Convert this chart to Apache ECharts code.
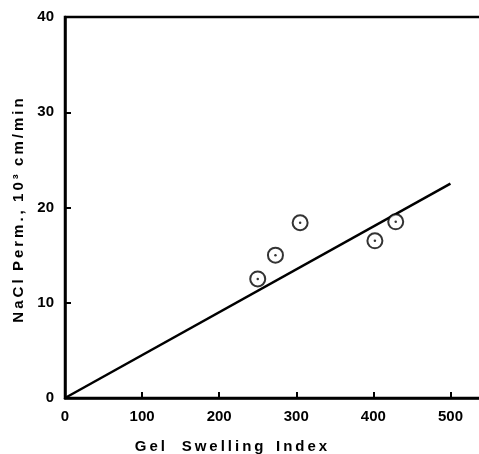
<!DOCTYPE html>
<html><head><meta charset="utf-8">
<script src="https://cdn.jsdelivr.net/npm/echarts@6/dist/echarts.min.js"></script>
<style>html,body{margin:0;padding:0;background:#fff}#c{width:479px;height:454px}</style>
</head><body><div id="c"></div>
<script>
const swellingIndex = [250, 273, 305, 402, 429];
const naclPerm = [12.5, 15.0, 18.4, 16.5, 18.5];
const fitX = [0, 500];
const fitY = [0, 22.5];
const xTicks = [0, 100, 200, 300, 400, 500];
const yTicks = [0, 10, 20, 30, 40];

const sp = s => s.split('').join('\u2009');
const pts = swellingIndex.map((x, i) => [x, naclPerm[i]]);
const line = fitX.map((x, i) => [x, fitY[i]]);
const font = 'Liberation Sans';
const chart = echarts.init(document.getElementById('c'));
chart.setOption({
  animation: false,
  backgroundColor: '#fff',
  grid: {left: 65, top: 17, right: -10, bottom: 56, show: true, borderColor: '#000', borderWidth: 2.5,
    outerBoundsMode: 'none', containLabel: false},
  xAxis: {
    type: 'value', min: 0, max: 550, interval: 100,
    name: sp('Gel') + '    ' + sp('Swelling') + '   ' + sp('Index'), nameLocation: 'middle', nameGap: 41,
    nameTextStyle: {fontFamily: font, fontWeight: 'bold', fontSize: 15, color: '#000', padding: [0, 92, 0, 0]},
    axisLine: {lineStyle: {color: '#000', width: 2.5}},
    axisTick: {inside: true, length: 6, lineStyle: {color: '#000', width: 2}},
    axisLabel: {fontFamily: font, fontWeight: 'bold', fontSize: 15, color: '#000', margin: 11,
      formatter: v => xTicks.includes(v) ? String(v) : ''},
    splitLine: {show: false}
  },
  yAxis: {
    type: 'value', min: 0, max: 40, interval: 10,
    name: sp('NaCl') + '  ' + sp('Perm.,') + '  ' + sp('10³') + '  ' + sp('cm/min'), nameLocation: 'middle', nameGap: 28,
    nameTextStyle: {fontFamily: font, fontWeight: 'bold', fontSize: 15, color: '#000', padding: [0, 6, 0, 0]},
    axisLine: {lineStyle: {color: '#000', width: 2.5}},
    axisTick: {inside: true, length: 6, lineStyle: {color: '#000', width: 2}},
    axisLabel: {fontFamily: font, fontWeight: 'bold', fontSize: 15, color: '#000', margin: 11,
      formatter: v => yTicks.includes(v) ? String(v) : ''},
    splitLine: {show: false}
  },
  series: [
    {type: 'line', data: line, symbol: 'none', lineStyle: {color: '#000', width: 2.5}, z: 2},
    {type: 'scatter', data: pts, symbol: 'circle', symbolSize: 15,
      itemStyle: {color: '#fff', borderColor: '#000', borderWidth: 2}, z: 3},
    {type: 'scatter', data: pts, symbol: 'circle', symbolSize: 2.5,
      itemStyle: {color: '#000'}, z: 4}
  ]
});
</script></body></html>
